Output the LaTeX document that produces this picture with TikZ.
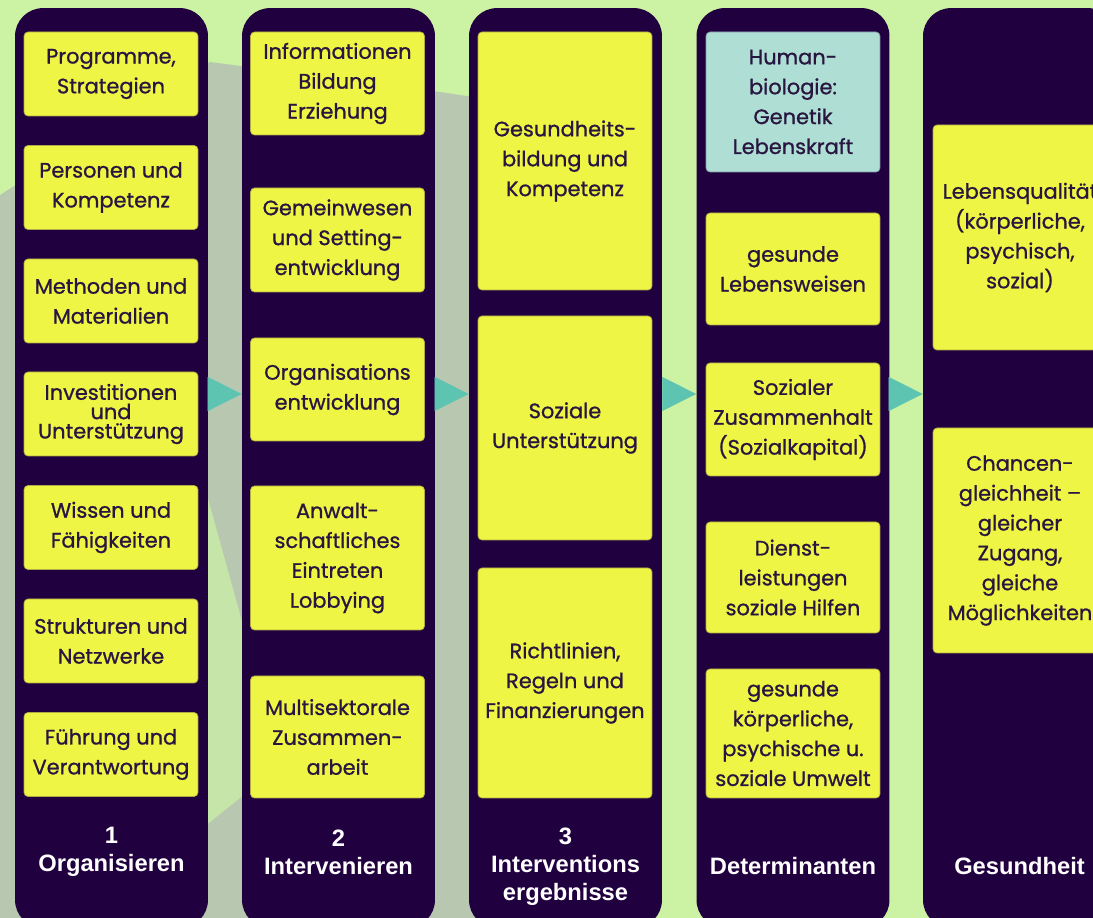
\documentclass[tikz,border=0pt]{standalone}
\usepackage{fontspec}
\setmainfont{Poppins}[FakeBold=0.9]
\newfontfamily\titelfont{Liberation Sans}
\usetikzlibrary{arrows.meta}
\definecolor{hgruen}{RGB}{204, 242, 164}
\definecolor{hgrau}{RGB}{184, 200, 176}
\definecolor{dlila}{RGB}{33, 0, 64}
\definecolor{fgelb}{RGB}{238, 245, 68}
\definecolor{ftuerkis}{RGB}{174, 222, 212}
\definecolor{ptuerkis}{RGB}{92, 196, 176}
\definecolor{ftext}{RGB}{40, 22, 64}

\tikzset{
    spalte/.style={fill=dlila, rounded corners=0.56cm, minimum width=3.86cm, minimum height=18.4cm, inner sep=0pt},
    feld/.style={fill=fgelb, draw=fgelb!70!dlila, line width=0.4pt, rounded corners=0.08cm,
        minimum width=3.48cm, minimum height=#1*0.02cm, inner sep=0pt, align=center,
        text=ftext, font=\fontsize{11.9}{17}\selectfont},
    titel/.style={text=white, align=center, font=\titelfont\bfseries\fontsize{13.5}{16}\selectfont},
    pfeil/.style={-{Triangle[length=0.68cm, width=0.68cm]}, ptuerkis, line width=0.1pt}
}

\begin{document}
\begin{tikzpicture}[x=0.02cm, y=-0.02cm]
                    \useasboundingbox (0,0) rectangle (1093,918);
                    \clip (0,0) rectangle (1093,918);
                    \fill[hgruen] (0,0) rectangle (1093,918);
                    \fill[hgrau] (0,195) -- (210,62) -- (440,92) -- (560,110) -- (560,918) -- (0,918) -- cycle;
                    \fill[hgruen!70!hgrau] (200,470) -- (250,650) -- (250,790) -- (200,830) -- cycle;
                    
                    % Spalten
                    \node[spalte] (s1) at (111.5,468) {};
                    \node[spalte] (s2) at (338.5,468) {};
                    \node[spalte] (s3) at (565.5,468) {};
                    \node[spalte] (s4) at (793,468) {};
                    \node[spalte] (s5) at (1019.5,468) {};
                    
                    \coordinate (ph) at (0,394);
                    \draw[pfeil] (s1.east |- ph) -- (s2.west |- ph);
                    \draw[pfeil] (s2.east |- ph) -- (s3.west |- ph);
                    \draw[pfeil] (s3.east |- ph) -- (s4.west |- ph);
                    \draw[pfeil] (s4.east |- ph) -- (s5.west |- ph);
                    
                    % 1 Organisieren
                    \node[feld=84] (o1) at (111,74) {Programme,\\Strategien};
                    \node[feld=84] (o2) at (111,187.5) {Personen und\\Kompetenz};
                    \node[feld=84] (o3) at (111,301) {Methoden und\\Materialien};
                    \node[feld=84] (o4) at (111,414) {Investitionen\\[-6pt]und\\[-6pt]Unterstützung};
                    \node[feld=84] (o5) at (111,527.5) {Wissen und\\Fähigkeiten};
                    \node[feld=84] (o6) at (111,641) {Strukturen und\\Netzwerke};
                    \node[feld=84] (o7) at (111,754.5) {Führung und\\Verantwortung};
                    
                    % 2 Intervenieren
                    \node[feld=103] (i1) at (337.5,83.5) {Informationen\\Bildung\\Erziehung};
                    \node[feld=104] (i2) at (337.5,240) {Gemeinwesen\\und Setting-\\entwicklung};
                    \node[feld=103] (i3) at (337.5,389.5) {Organisations\\entwicklung};
                    \node[feld=144] (i4) at (337.5,558) {Anwalt-\\schaftliches\\Eintreten\\Lobbying};
                    \node[feld=122] (i5) at (337.5,737) {Multisektorale\\Zusammen-\\arbeit};
                    
                    % 3 Interventionsergebnisse
                    \node[feld=258] (e1) at (565,161) {Gesundheits-\\bildung und\\Kompetenz};
                    \node[feld=224] (e2) at (565,428) {Soziale\\Unterstützung};
                    \node[feld=230] (e3) at (565,683) {Richtlinien,\\Regeln und\\Finanzierungen};
                    
                    % Determinanten
                    \node[feld=140, fill=ftuerkis, draw=ftuerkis!70!dlila] (d1) at (793,102) {Human-\\biologie:\\Genetik\\Lebenskraft};
                    \node[feld=112] (d2) at (793,269) {gesunde\\Lebensweisen};
                    \node[feld=113] (d3) at (793,419.5) {Sozialer\\Zusammenhalt\\(Sozialkapital)};
                    \node[feld=111] (d4) at (793,577.5) {Dienst-\\leistungen\\soziale Hilfen};
                    \node[feld=129] (d5) at (793,733.5) {gesunde\\körperliche,\\psychische u.\\soziale Umwelt};
                    
                    % Gesundheit
                    \node[feld=225] (g1) at (1020,237.5) {Lebensqualität\\(körperliche,\\psychisch,\\sozial)};
                    \node[feld=225] (g2) at (1020,540.5) {Chancen-\\gleichheit --\\gleicher\\Zugang,\\gleiche\\Möglichkeiten};
                    
                    \node[titel] (t1) at (111.5,852) {1\\Organisieren};
                    \node[titel] (t2) at (338.5,852) {2\\Intervenieren};
                    \node[titel] (t3) at (565.5,867) {3\\Interventions\\ergebnisse};
                    \node[titel] (t4) at (793,866) {Determinanten};
                    \node[titel] (t5) at (1019.5,866) {Gesundheit};
                \end{tikzpicture}
\end{document}
